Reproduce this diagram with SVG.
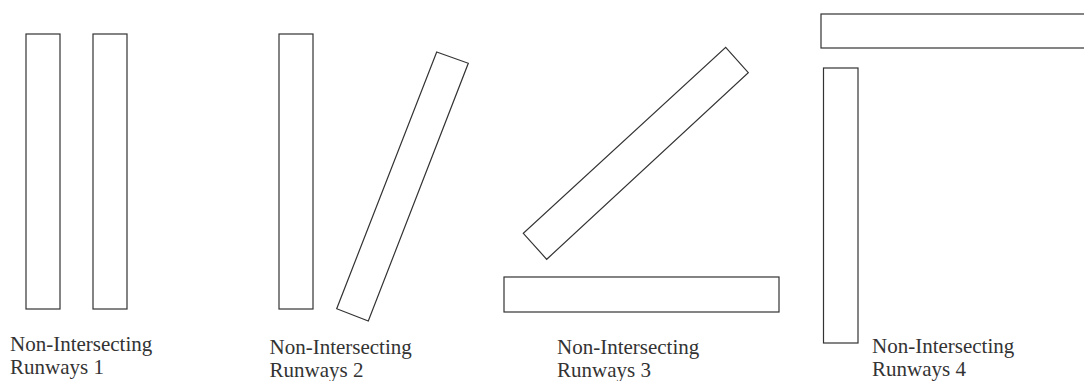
<svg xmlns="http://www.w3.org/2000/svg" width="1084" height="381" viewBox="0 0 1084 381">
<style>
.rw{fill:#fff;stroke:#333;stroke-width:1.2}
.lb{font-family:"Liberation Serif","Times New Roman",serif;font-size:21px;fill:#333}
</style>
<rect width="1084" height="381" fill="#fff"/>
<g id="group1">
<rect class="rw" x="26" y="34" width="34" height="275"/>
<rect class="rw" x="93" y="34" width="34" height="275"/>
<text class="lb" x="10" y="351">Non-Intersecting<tspan x="10" y="374">Runways 1</tspan></text>
</g>
<g id="group2">
<rect class="rw" x="279" y="34" width="34" height="275"/>
<polygon class="rw" points="436.7,52 468.3,63.3 368.3,321 336.7,308.7"/>
<text class="lb" x="269.5" y="354">Non-Intersecting<tspan x="269.5" y="377">Runways 2</tspan></text>
</g>
<g id="group3">
<polygon class="rw" points="725.7,47.3 748.3,72.7 546.7,259.3 523.3,233.3"/>
<rect class="rw" x="504" y="277" width="275" height="35"/>
<text class="lb" x="557" y="354">Non-Intersecting<tspan x="557" y="377">Runways 3</tspan></text>
</g>
<g id="group4">
<rect class="rw" x="821" y="14" width="275" height="34"/>
<rect class="rw" x="823.5" y="68" width="34.5" height="275"/>
<text class="lb" x="872" y="353">Non-Intersecting<tspan x="872" y="376">Runways 4</tspan></text>
</g>
<g id="connectors"/>
</svg>
